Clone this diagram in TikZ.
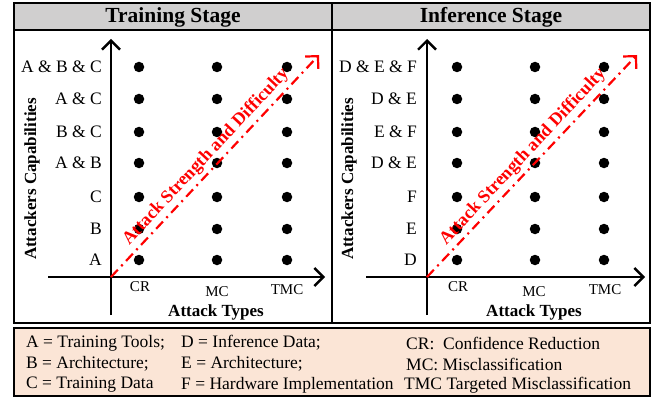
\documentclass[tikz,border=0pt]{standalone}
\usepackage{fontspec}
\setmainfont{Liberation Serif}
\usetikzlibrary{arrows.meta}
\definecolor{bandgray}{HTML}{D0CFCF}
\definecolor{legendfill}{HTML}{FBE5D6}
\tikzset{
  panel/.style={draw=black, line width=1.8pt},
  axis/.style={draw=black, line width=2.4pt, -{Straight Barb[length=9pt,width=18pt,line width=2.4pt]}},
  dot/.style={circle, fill=black, inner sep=0pt, minimum size=10.5pt},
  rowlab/.style={anchor=east, font=\fontsize{17.5}{20}\selectfont, inner sep=0pt},
  collab/.style={font=\fontsize{15}{17}\selectfont, inner sep=0pt},
  axtitle/.style={font=\bfseries\fontsize{17}{19}\selectfont, inner sep=0pt},
  stagetitle/.style={font=\bfseries\fontsize{21.5}{24}\selectfont, inner sep=0pt},
  redarrow/.style={draw=red, line width=2.2pt, dash pattern=on 10pt off 5pt on 2pt off 5pt, -{Straight Barb[length=9pt,width=18pt,line width=2.2pt]}},
  redtext/.style={text=red, font=\bfseries\fontsize{18}{20}\selectfont, inner sep=0pt, rotate=47},
  legtext/.style={anchor=west, font=\fontsize{17.5}{20}\selectfont, inner sep=0pt},
}
\begin{document}
\begin{tikzpicture}[x=1pt,y=-1pt]
\useasboundingbox (0,0) rectangle (652,398);
% panels
\fill[bandgray] (14,3) rectangle (650,30);
\draw[panel] (14,3) rectangle (650,323);
\draw[panel] (14,30) -- (650,30);
\draw[panel] (332,3) -- (332,323);
\node[stagetitle] (t1) at (173,17) {Training Stage};
\node[stagetitle] (t2) at (491,17) {Inference Stage};
% ---------- left plot ----------
\coordinate (o1) at (111,277);
\coordinate (ly0) at (111,315);
\coordinate (ly1) at (111,39);
\coordinate (lx0) at (48,277);
\coordinate (lx1) at (325,277);
\draw[axis] (ly0) -- (ly1);
\draw[axis] (lx0) -- (lx1);
\foreach \yy/\lab [count=\i] in {260/A,229/B,197/C,163/A \& B,132/B \& C,99/A \& C,67/A \& B \& C}{
  \node[rowlab] (lr\i) at (102,\yy) {\lab};
  \node[dot] (la\i) at (139,\yy) {};
  \node[dot] (lb\i) at (217,\yy) {};
  \node[dot] (lc\i) at (287,\yy) {};
}
\node[collab] (lcr) at (140,287) {CR};
\node[collab] (lmc) at (217,292) {MC};
\node[collab] (ltmc) at (287,290) {TMC};
\node[axtitle] (lat) at (216,312) {Attack Types};
\node[axtitle, rotate=90] (lac) at (32,179) {Attackers Capabilities};
\coordinate (le1) at (319,55);
\draw[redarrow] (o1) -- (le1);
\node[redtext] (ls1) at (206,157) {Attack Strength and Difficulty};
% ---------- right plot ----------
\coordinate (o2) at (427,277);
\coordinate (ry0) at (427,315);
\coordinate (ry1) at (427,39);
\coordinate (rx0) at (366,277);
\coordinate (rx1) at (645,277);
\draw[axis] (ry0) -- (ry1);
\draw[axis] (rx0) -- (rx1);
\foreach \yy/\lab [count=\i] in {260/D,229/E,197/F,163/D \& E,132/E \& F,99/D \& E,67/D \& E \& F}{
  \node[rowlab] (rr\i) at (417,\yy) {\lab};
  \node[dot] (ra\i) at (457,\yy) {};
  \node[dot] (rb\i) at (535,\yy) {};
  \node[dot] (rc\i) at (604,\yy) {};
}
\node[collab] (rcr) at (458,287) {CR};
\node[collab] (rmc) at (534,292) {MC};
\node[collab] (rtmc) at (605,290) {TMC};
\node[axtitle] (rat) at (534,312) {Attack Types};
\node[axtitle, rotate=90] (rac) at (349,179) {Attackers Capabilities};
\coordinate (re1) at (637,55);
\draw[redarrow] (o2) -- (re1);
\node[redtext] (rs1) at (523,157) {Attack Strength and Difficulty};
% ---------- legend ----------
\draw[panel, fill=legendfill] (14,328) rectangle (650,396);
\node[legtext] (g1) at (26,343) {A = Training Tools;};
\node[legtext] (g2) at (26,364) {B = Architecture;};
\node[legtext] (g3) at (26,385) {C = Training Data};
\node[legtext] (g4) at (181,343) {D = Inference Data;};
\node[legtext] (g5) at (181,364) {E = Architecture;};
\node[legtext] (g6) at (181,385) {F = Hardware Implementation};
\node[legtext] (g7) at (406,343) {CR:~ Confidence Reduction};
\node[legtext] (g8) at (406,364) {MC: Misclassification};
\node[legtext] (g9) at (404,385) {TMC Targeted Misclassification};
\end{tikzpicture}
\end{document}
